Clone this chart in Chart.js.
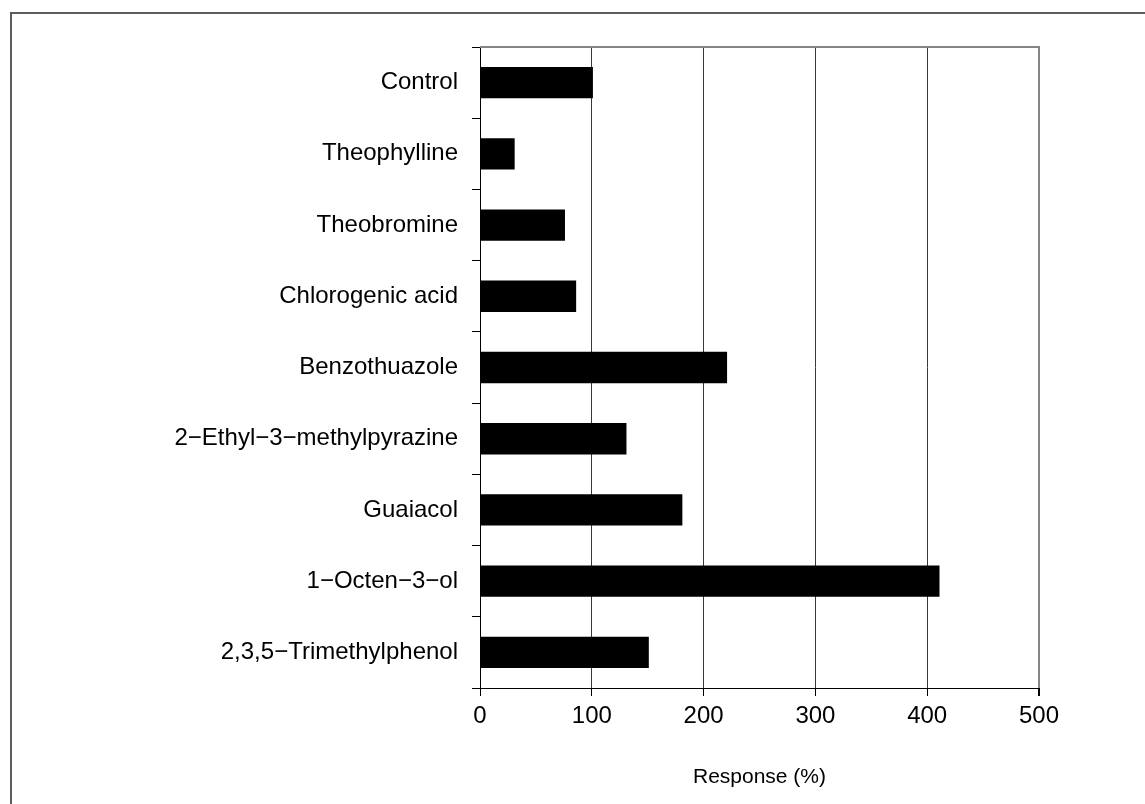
<!DOCTYPE html>
<html>
<head>
<meta charset="utf-8">
<title>Response</title>
<script src="https://cdn.jsdelivr.net/npm/chart.js@4/dist/chart.umd.min.js"></script>
<style>
  html, body { margin: 0; padding: 0; background: #fff; }
  #wrap { position: relative; width: 1145px; height: 804px; overflow: hidden; }
  #frame {
    position: absolute; left: 10px; top: 12px; width: 1200px; height: 900px;
    border-left: 2px solid #5c5c5c; border-top: 2px solid #5c5c5c;
  }
  canvas { position: absolute; left: 0; top: 0; }
</style>
</head>
<body>
<div id="wrap">
  <div id="frame"></div>
  <canvas id="chart" width="1145" height="804"></canvas>
</div>
<script>
'use strict';

// ===== DATA =====
const compounds = [
  'Control',
  'Theophylline',
  'Theobromine',
  'Chlorogenic acid',
  'Benzothuazole',
  '2−Ethyl−3−methylpyrazine',
  'Guaiacol',
  '1−Octen−3−ol',
  '2,3,5−Trimethylphenol'
];
const responses = [101, 31, 76, 86, 221, 131, 181, 411, 151];
const xTicks = [0, 100, 200, 300, 400, 500];
const axisTitle = 'Response (%)';

// ===== PLOT FRAME (gray top + right edge) =====
const framePlugin = {
  id: 'framePlugin',
  afterDatasetsDraw(chart) {
    const { ctx, chartArea: a } = chart;
    ctx.save();
    ctx.strokeStyle = '#858585';
    ctx.lineWidth = 2;
    ctx.beginPath();
    ctx.moveTo(a.left, a.top);
    ctx.lineTo(a.right, a.top);
    ctx.lineTo(a.right, a.bottom);
    ctx.stroke();
    ctx.restore();
  }
};

const FONT = { family: '"Liberation Sans", Arial, sans-serif', size: 24 };

new Chart(document.getElementById('chart'), {
  type: 'bar',
  data: {
    labels: compounds,
    datasets: [{
      data: responses,
      backgroundColor: '#000',
      borderWidth: 0,
      categoryPercentage: 1,
      barPercentage: 0.44
    }]
  },
  options: {
    indexAxis: 'y',
    responsive: false,
    animation: false,
    layout: { padding: { top: 47, right: 106, left: 0, bottom: 0 } },
    plugins: { legend: { display: false }, tooltip: { enabled: false } },
    scales: {
      x: {
        min: 0,
        max: 500,
        afterBuildTicks(scale) { scale.ticks = xTicks.map(v => ({ value: v })); },
        afterFit(scale) { scale.height = 116; },
        grid: {
          color: ctx => (ctx.tick && ctx.tick.value === 500 ? '#858585' : '#3a3a3a'),
          lineWidth: ctx => (ctx.tick && ctx.tick.value === 500 ? 2 : 1),
          tickLength: 8,
          tickColor: '#000'
        },
        border: { color: '#000', width: 1 },
        ticks: { color: '#000', font: FONT, padding: 6, maxRotation: 0 },
        title: {
          display: true,
          text: axisTitle,
          color: '#000',
          font: { family: FONT.family, size: 21 },
          padding: { top: 0, bottom: 14 }
        }
      },
      y: {
        afterFit(scale) { scale.width = 480; },
        grid: {
          offset: true,
          drawOnChartArea: false,
          tickLength: 8,
          color: '#000'
        },
        border: { color: '#000', width: 1 },
        ticks: { color: '#000', font: FONT, padding: 14 }
      }
    }
  },
  plugins: [framePlugin]
});
</script>
</body>
</html>
